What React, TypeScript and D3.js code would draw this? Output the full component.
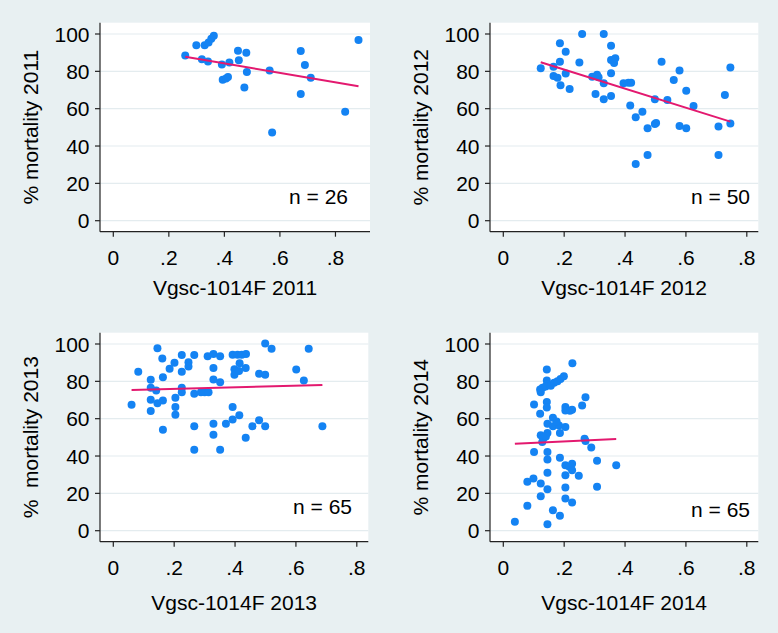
import React from "react";
import * as d3 from "d3";

// ---------- data ----------
const x2011 = [0.259, 0.299, 0.319, 0.329, 0.343, 0.353, 0.362, 0.341, 0.391, 0.418, 0.449, 0.452, 0.479, 0.481, 0.394, 0.406, 0.413, 0.472, 0.563, 0.572, 0.675, 0.69, 0.675, 0.711, 0.835, 0.883];
const y2011 = [88.5, 94, 86.5, 94, 95.5, 97.5, 99, 85.3, 83.7, 84.8, 91, 86, 90, 79.7, 75.5, 76.2, 77, 71.3, 80.5, 47.3, 90.9, 83.4, 67.9, 76.6, 58.4, 96.8];

const x2012 = [0.123, 0.165, 0.165, 0.178, 0.186, 0.186, 0.188, 0.205, 0.205, 0.218, 0.25, 0.259, 0.292, 0.303, 0.308, 0.313, 0.33, 0.33, 0.33, 0.354, 0.354, 0.364, 0.368, 0.354, 0.354, 0.395, 0.411, 0.42, 0.417, 0.435, 0.435, 0.457, 0.474, 0.474, 0.498, 0.498, 0.502, 0.52, 0.539, 0.56, 0.579, 0.579, 0.601, 0.601, 0.625, 0.707, 0.707, 0.728, 0.746, 0.746];
const y2012 = [81.6, 82.5, 77.5, 76.6, 95.0, 85.2, 72.5, 90.5, 78.8, 70.5, 84.8, 100, 77.1, 67.9, 78.2, 76.8, 100, 73.6, 65.0, 93.7, 86.1, 84.5, 87.0, 79.0, 66.8, 73.6, 73.9, 73.9, 61.7, 55.4, 30.4, 58.4, 49.5, 35.2, 65.0, 51.8, 52.3, 85.2, 64.6, 75.4, 80.4, 50.7, 69.6, 49.5, 61.4, 50.4, 35.2, 67.3, 82.1, 52.1];

const x2013 = [0.06, 0.082, 0.123, 0.123, 0.123, 0.123, 0.145, 0.141, 0.145, 0.161, 0.163, 0.163, 0.163, 0.185, 0.201, 0.204, 0.204, 0.204, 0.225, 0.225, 0.225, 0.225, 0.247, 0.247, 0.266, 0.266, 0.266, 0.266, 0.288, 0.3, 0.313, 0.31, 0.329, 0.329, 0.329, 0.329, 0.329, 0.351, 0.351, 0.351, 0.37, 0.392, 0.408, 0.422, 0.436, 0.398, 0.398, 0.413, 0.415, 0.392, 0.392, 0.414, 0.435, 0.435, 0.457, 0.479, 0.479, 0.499, 0.499, 0.499, 0.52, 0.601, 0.626, 0.642, 0.687];
const y2013 = [67.4, 85.2, 80.8, 76.5, 70.1, 64.1, 97.7, 75.1, 68.3, 92.3, 82.2, 69.8, 54.1, 86.7, 89.9, 71.2, 66.2, 62.1, 94.1, 85.2, 76.5, 74.2, 90.2, 87.9, 94.1, 73.3, 56.0, 43.4, 74.2, 74.2, 74.2, 93.4, 94.7, 87.2, 81.0, 57.3, 51.4, 93.4, 79.5, 43.4, 57.3, 94.3, 94.3, 94.3, 94.6, 86.5, 83.5, 85.5, 89.7, 66.2, 59.5, 61.8, 87.2, 49.8, 56.0, 84.0, 59.1, 100.3, 83.5, 56.0, 97.4, 86.4, 80.4, 97.4, 56.0];

const x2014 = [0.038, 0.079, 0.079, 0.099, 0.101, 0.101, 0.123, 0.123, 0.121, 0.121, 0.123, 0.123, 0.128, 0.129, 0.143, 0.143, 0.145, 0.139, 0.143, 0.143, 0.145, 0.145, 0.145, 0.145, 0.145, 0.145, 0.145, 0.156, 0.167, 0.178, 0.188, 0.199, 0.163, 0.163, 0.163, 0.183, 0.186, 0.186, 0.186, 0.204, 0.204, 0.204, 0.204, 0.204, 0.204, 0.204, 0.217, 0.227, 0.219, 0.226, 0.226, 0.226, 0.226, 0.248, 0.259, 0.27, 0.267, 0.27, 0.289, 0.308, 0.308, 0.371, 0.132, 0.175, 0.14];
const y2014 = [4.8, 13.3, 26.2, 28.0, 67.6, 42.2, 25.3, 18.5, 62.6, 75.6, 74.2, 51.1, 47.5, 76.5, 86.4, 80.4, 78.6, 77.3, 69.0, 66.0, 57.3, 52.3, 42.2, 38.1, 31.1, 22.2, 3.4, 77.7, 79.2, 80.0, 81.3, 82.7, 60.5, 56.0, 11.0, 56.4, 52.3, 39.1, 8.0, 66.2, 64.4, 55.5, 35.1, 29.7, 23.1, 17.3, 34.2, 89.7, 64.3, 64.8, 35.9, 32.4, 15.1, 29.4, 67.0, 71.5, 49.3, 48.0, 44.5, 37.5, 23.5, 35.1, 49.5, 58.5, 50.5];

const years = ["2011", "2012", "2013", "2014"];
const counts = [26, 50, 65, 65];
const yTitles = ["% mortality 2011", "% mortality 2012", "%  mortality 2013", "% mortality 2014"];
const xTitles = ["Vgsc-1014F 2011", "Vgsc-1014F 2012", "Vgsc-1014F 2013", "Vgsc-1014F 2014"];
const fitIntercepts = [94.3, 91.1, 75.1, 46.3];
const fitSlopes = [-25.2, -51.0, 4.3, 7.5];
const xTicks = [0, 0.2, 0.4, 0.6, 0.8];
const xTickLabels = ["0", ".2", ".4", ".6", ".8"];
const yTicks = [0, 20, 40, 60, 80, 100];

const xs = [x2011, x2012, x2013, x2014];
const ys = [y2011, y2012, y2013, y2014];

// ---------- layout ----------
const W = 778;
const H = 633;
const rects = [
  { left: 100, top: 22.7, right: 370, bottom: 231.7, xTitleOff: 55.8, nRight: 348, nY: 196.5 },
  { left: 490, top: 22.7, right: 758.3, bottom: 231.7, xTitleOff: 55.8, nRight: 750, nY: 196.5 },
  { left: 100, top: 332.7, right: 368.3, bottom: 541.7, xTitleOff: 61, nRight: 352, nY: 506.5 },
  { left: 490, top: 332.7, right: 758.3, bottom: 541.7, xTitleOff: 61, nRight: 750, nY: 509 },
];

const BG = "#e8f0f2";
const GRID = "#e4ecef";
const MARKER = "#1483f3";
const LINE = "#e3196f";
const FONT = "'Liberation Sans', Arial, sans-serif";
const FS = 21;

function Panel({ i }: { i: number }) {
  const r = rects[i];
  const xd = xs[i];
  const yd = ys[i];
  const xMax = Math.max(0.8, d3.max(xd) as number);
  const x = d3.scaleLinear().domain([0, xMax]).range([r.left + 13.3, r.right - 11.5]);
  const y = d3.scaleLinear().domain([0, 100]).range([r.bottom - 11, r.top + 11.3]);
  const [x0, x1] = d3.extent(xd) as [number, number];
  const fit = (v: number) => fitIntercepts[i] + fitSlopes[i] * v;
  const linePath = d3.line<number>().x((v) => x(v)).y((v) => y(fit(v)))([x0, x1]);
  const pts = xd.map((v, k) => [v, yd[k]] as [number, number]);
  const cy = (r.top + r.bottom) / 2;
  const cx = (r.left + r.right) / 2;
  return (
    <g>
      <rect x={r.left} y={r.top} width={r.right - r.left} height={r.bottom - r.top} fill="#ffffff" />
      {yTicks.map((t) => (
        <line key={"g" + t} x1={r.left} x2={r.right} y1={y(t)} y2={y(t)} stroke={GRID} strokeWidth={1.2} />
      ))}
      {pts.map((p, k) => (
        <circle key={k} cx={x(p[0])} cy={y(p[1])} r={4} fill={MARKER} />
      ))}
      <path d={linePath || ""} fill="none" stroke={LINE} strokeWidth={2} />
      {/* axes */}
      <line x1={r.left} x2={r.left} y1={r.top} y2={r.bottom} stroke="#222" strokeWidth={1.2} />
      <line x1={r.left} x2={r.right} y1={r.bottom} y2={r.bottom} stroke="#222" strokeWidth={1.2} />
      {yTicks.map((t) => (
        <g key={"y" + t}>
          <line x1={r.left - 5} x2={r.left} y1={y(t)} y2={y(t)} stroke="#222" strokeWidth={1.2} />
          <text x={r.left - 10.5} y={y(t)} dy="0.36em" textAnchor="end" fontSize={FS} fontFamily={FONT} fill="#000">
            {t}
          </text>
        </g>
      ))}
      {xTicks.map((t, k) => (
        <g key={"x" + t}>
          <line x1={x(t)} x2={x(t)} y1={r.bottom} y2={r.bottom + 5} stroke="#222" strokeWidth={1.2} />
          <text x={x(t)} y={r.bottom + 25.5} dy="0.36em" textAnchor="middle" fontSize={FS} fontFamily={FONT} fill="#000">
            {xTickLabels[k]}
          </text>
        </g>
      ))}
      <text x={cx} y={r.bottom + r.xTitleOff} dy="0.36em" textAnchor="middle" fontSize={FS} fontFamily={FONT} fill="#000">
        {xTitles[i]}
      </text>
      <text
        transform={`translate(${r.left - 70},${cy}) rotate(-90)`}
        dy="0.36em"
        textAnchor="middle"
        fontSize={FS}
        fontFamily={FONT}
        fill="#000"
        style={{ whiteSpace: "pre" }}
      >
        {yTitles[i]}
      </text>
      <text x={r.nRight} y={r.nY} dy="0.36em" textAnchor="end" fontSize={FS} fontFamily={FONT} fill="#000">
        {`n = ${counts[i]}`}
      </text>
    </g>
  );
}

export default function App() {
  return (
    <svg
      width={W}
      height={H}
      style={{ position: "absolute", left: 0, top: 0, display: "block" }}
      xmlns="http://www.w3.org/2000/svg"
    >
      <rect x={0} y={0} width={W} height={H} fill={BG} />
      {years.map((yr, i) => (
        <Panel key={yr} i={i} />
      ))}
    </svg>
  );
}
